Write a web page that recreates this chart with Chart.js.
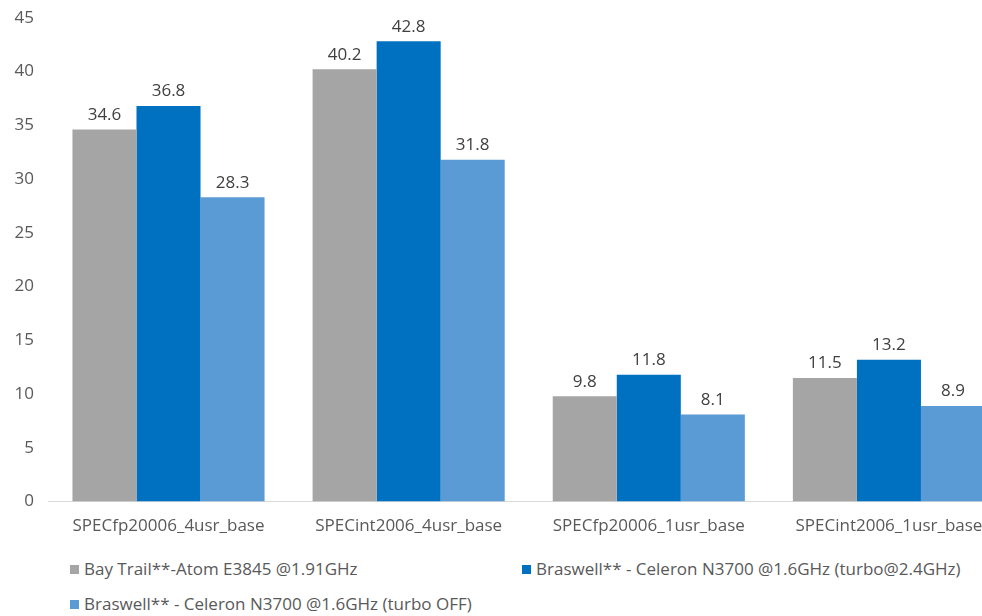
<!DOCTYPE html>
<html>
<head>
<meta charset="utf-8">
<script src="https://cdn.jsdelivr.net/npm/chart.js@4"></script>
<style>
    html, body { margin: 0; padding: 0; background: #fff; overflow: hidden; }
    #wrap { position: relative; width: 982px; height: 616px; overflow: hidden; }
    #chart-box { position: absolute; left: 0; top: -7px; width: 1012px; height: 557px; }
    #legend { position: absolute; left: 0; top: 557px; width: 982px; font-family: "Open Sans", sans-serif; font-size: 17px; color: #595959; }
    .lg-item { position: absolute; white-space: nowrap; }
    .lg-box { display: inline-block; width: 9px; height: 9px; margin-right: 5px; vertical-align: 1px; }
</style>
</head>
<body>
<div id="wrap">
    <div id="chart-box"><canvas id="bar-chart"></canvas></div>
    <div id="legend"></div>
</div>
<script>
'use strict';

var categories = [
    "SPECfp20006_4usr_base",
    "SPECint2006_4usr_base",
    "SPECfp20006_1usr_base",
    "SPECint2006_1usr_base"
];

var seriesNames = [
    "Bay Trail**-Atom E3845 @1.91GHz",
    "Braswell** - Celeron N3700 @1.6GHz (turbo@2.4GHz)",
    "Braswell** - Celeron N3700 @1.6GHz (turbo OFF)"
];

var bayTrail = [34.6, 40.2, 9.8, 11.5];
var braswellTurbo = [36.8, 42.8, 11.8, 13.2];
var braswellTurboOff = [28.3, 31.8, 8.1, 8.9];

var seriesColors = ["#A5A5A5", "#0070C0", "#5B9BD5"];
var FONT = '"Open Sans", sans-serif';

// draws the value above each bar
var valueLabels = {
    id: 'valueLabels',
    afterDatasetsDraw: function (chart) {
        var ctx = chart.ctx;
        ctx.save();
        ctx.font = '17px ' + FONT;
        ctx.fillStyle = '#404040';
        ctx.textAlign = 'center';
        ctx.textBaseline = 'bottom';
        chart.data.datasets.forEach(function (ds, i) {
            chart.getDatasetMeta(i).data.forEach(function (bar, j) {
                ctx.fillText(ds.data[j].toFixed(1), bar.x, bar.y - 6);
            });
        });
        ctx.restore();
    }
};

var chart = new Chart(document.getElementById("bar-chart"), {
    type: 'bar',
    data: {
        labels: categories,
        datasets: [
            { label: seriesNames[0], data: bayTrail, backgroundColor: seriesColors[0] },
            { label: seriesNames[1], data: braswellTurbo, backgroundColor: seriesColors[1] },
            { label: seriesNames[2], data: braswellTurboOff, backgroundColor: seriesColors[2] }
        ]
    },
    options: {
        responsive: true,
        maintainAspectRatio: false,
        animation: false,
        categoryPercentage: 0.8,
        barPercentage: 1.0,
        layout: { padding: { top: 0, right: 3, left: 0, bottom: 0 } },
        plugins: {
            legend: { display: false },
            tooltip: { enabled: false }
        },
        scales: {
            x: {
                grid: { display: false, drawTicks: false },
                border: { color: '#D9D9D9', width: 1 },
                ticks: { color: '#595959', font: { family: FONT, size: 17 }, padding: 14, maxRotation: 0, autoSkip: false }
            },
            y: {
                min: 0,
                max: 45,
                grid: { display: false, drawTicks: false },
                border: { display: false },
                ticks: { stepSize: 5, color: '#595959', font: { family: FONT, size: 17 }, padding: 14.5 }
            }
        }
    },
    plugins: [valueLabels]
});

// legend laid out in two columns like the original
var legendSlots = [
    { left: 70, top: 0 },
    { left: 522, top: 0 },
    { left: 70, top: 35 }
];
var legendEl = document.getElementById('legend');
chart.data.datasets.forEach(function (ds, i) {
    var item = document.createElement('div');
    item.className = 'lg-item';
    item.style.left = legendSlots[i].left + 'px';
    item.style.top = legendSlots[i].top + 'px';
    var box = document.createElement('span');
    box.className = 'lg-box';
    box.style.background = ds.backgroundColor;
    item.appendChild(box);
    item.appendChild(document.createTextNode(ds.label));
    legendEl.appendChild(item);
});
</script>
</body>
</html>
